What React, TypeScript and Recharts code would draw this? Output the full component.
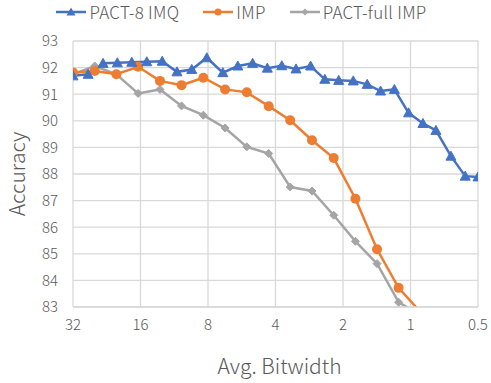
import React from 'react';
import { LineChart, Line, XAxis, YAxis, CartesianGrid, Legend, Label } from 'recharts';

// bitwidth positions (log2 axis, reversed)
const pact8Bits = [32, 27.4, 23.5, 20.3, 17.5, 15.0, 12.8, 11.0, 9.45, 8.1, 6.87, 5.89, 5.06, 4.35, 3.75, 3.24, 2.79, 2.41, 2.09, 1.8, 1.56, 1.36, 1.18, 1.02, 0.88, 0.77, 0.66, 0.57, 0.5];
const pact8Imq = [91.69, 91.75, 92.16, 92.18, 92.2, 92.22, 92.24, 91.84, 91.93, 92.37, 91.81, 92.06, 92.16, 91.98, 92.07, 91.95, 92.06, 91.56, 91.52, 91.5, 91.37, 91.12, 91.18, 90.3, 89.9, 89.64, 88.67, 87.92, 87.89];

const impBits = [32, 25.6, 20.5, 16.4, 13.1, 10.5, 8.39, 6.71, 5.37, 4.29, 3.44, 2.75, 2.2, 1.76, 1.41, 1.13, 0.9];
const imp = [91.82, 91.87, 91.75, 92.03, 91.5, 91.34, 91.62, 91.18, 91.07, 90.55, 90.02, 89.27, 88.6, 87.07, 85.17, 83.72, 82.8];
const pactFullImp = [91.75, 92.06, 91.75, 91.03, 91.18, 90.56, 90.21, 89.73, 89.02, 88.77, 87.51, 87.36, 86.45, 85.47, 84.63, 83.18, 82.7];

const xTicks = [32, 16, 8, 4, 2, 1, 0.5];
const yTicks = [83, 84, 85, 86, 87, 88, 89, 90, 91, 92, 93];

const BLUE = '#4472C4';
const ORANGE = '#ED7D31';
const GRAY = '#A5A5A5';
const TEXT = '#595959';
const FONT = '"Noto Sans CJK SC", "Noto Sans", sans-serif';

const pact8Data = pact8Bits.map((bits, i) => ({ bits, acc: pact8Imq[i] }));
const impData = impBits.map((bits, i) => ({ bits, acc: imp[i] }));
const fullData = impBits.map((bits, i) => ({ bits, acc: pactFullImp[i] }));

const Triangle = (props: any) => {
  const { cx, cy, key } = props;
  if (cx == null || cy == null) return <g key={key} />;
  return <path key={key} d={`M${cx},${cy - 5} L${cx + 5},${cy + 4} L${cx - 5},${cy + 4} Z`} fill={BLUE} stroke={BLUE} strokeWidth={1} />;
};

const Diamond = (props: any) => {
  const { cx, cy, key } = props;
  if (cx == null || cy == null) return <g key={key} />;
  return <path key={key} d={`M${cx},${cy - 4} L${cx + 4},${cy} L${cx},${cy + 4} L${cx - 4},${cy} Z`} fill={GRAY} stroke={GRAY} strokeWidth={1} />;
};

const legendItems = [
  { name: 'PACT-8 IMQ', color: BLUE, marker: 'triangle' },
  { name: 'IMP', color: ORANGE, marker: 'circle' },
  { name: 'PACT-full IMP', color: GRAY, marker: 'diamond' },
];

const LegendContent = () => (
  <div style={{ display: 'flex', justifyContent: 'center', gap: 24, fontFamily: FONT, fontWeight: 300, fontSize: 17, color: TEXT, lineHeight: '24px', letterSpacing: 0.3 }}>
    {legendItems.map((it) => (
      <div key={it.name} style={{ display: 'flex', alignItems: 'center' }}>
        <svg width={30} height={12} style={{ marginRight: 3 }}>
          <line x1={0} y1={6} x2={30} y2={6} stroke={it.color} strokeWidth={2.5} />
          {it.marker === 'triangle' && <path d="M15,1.5 L19.5,9.5 L10.5,9.5 Z" fill={it.color} />}
          {it.marker === 'circle' && <circle cx={15} cy={6} r={3.5} fill={it.color} />}
          {it.marker === 'diamond' && <path d="M15,2.5 L18.5,6 L15,9.5 L11.5,6 Z" fill={it.color} />}
        </svg>
        <span>{it.name}</span>
      </div>
    ))}
  </div>
);

export default function App() {
  return (
    <div style={{ position: 'absolute', left: 0, top: 0, background: '#fff' }}>
      <LineChart width={491} height={383} margin={{ top: 11, right: 13, bottom: 6, left: 5 }}>
        <CartesianGrid stroke="#D9D9D9" strokeWidth={1.3} />
        <XAxis
          dataKey="bits"
          type="number"
          scale="log"
          domain={[0.5, 32]}
          ticks={xTicks}
          reversed
          allowDataOverflow
          height={70}
          tickSize={0}
          tickMargin={12}
          tick={{ fill: TEXT, fontSize: 15, fontFamily: FONT, fontWeight: 300 }}
          axisLine={{ stroke: '#D9D9D9', strokeWidth: 1.3 }}
          tickLine={false}
        >
          <Label value="Avg. Bitwidth" position="insideBottom" offset={3} dx={4} style={{ fill: TEXT, fontSize: 21, fontFamily: FONT, fontWeight: 300 }} />
        </XAxis>
        <YAxis
          type="number"
          domain={[83, 93]}
          ticks={yTicks}
          allowDataOverflow
          width={68}
          tickSize={0}
          tickMargin={15}
          tick={{ fill: TEXT, fontSize: 15, fontFamily: FONT, fontWeight: 300 }}
          axisLine={false}
          tickLine={false}
        >
          <Label value="Accuracy" angle={-90} position="insideLeft" offset={13} style={{ fill: TEXT, fontSize: 21, fontFamily: FONT, fontWeight: 300, textAnchor: 'middle' }} />
        </YAxis>
        <Legend verticalAlign="top" height={30} wrapperStyle={{ top: 0 }} content={<LegendContent />} />
        <Line data={fullData} dataKey="acc" name="PACT-full IMP" stroke={GRAY} strokeWidth={2.5} dot={<Diamond />} isAnimationActive={false} />
        <Line data={impData} dataKey="acc" name="IMP" stroke={ORANGE} strokeWidth={2.5} dot={{ r: 5, fill: ORANGE, stroke: ORANGE, strokeWidth: 0 }} isAnimationActive={false} />
        <Line data={pact8Data} dataKey="acc" name="PACT-8 IMQ" stroke={BLUE} strokeWidth={2.5} dot={<Triangle />} isAnimationActive={false} />
      </LineChart>
    </div>
  );
}
